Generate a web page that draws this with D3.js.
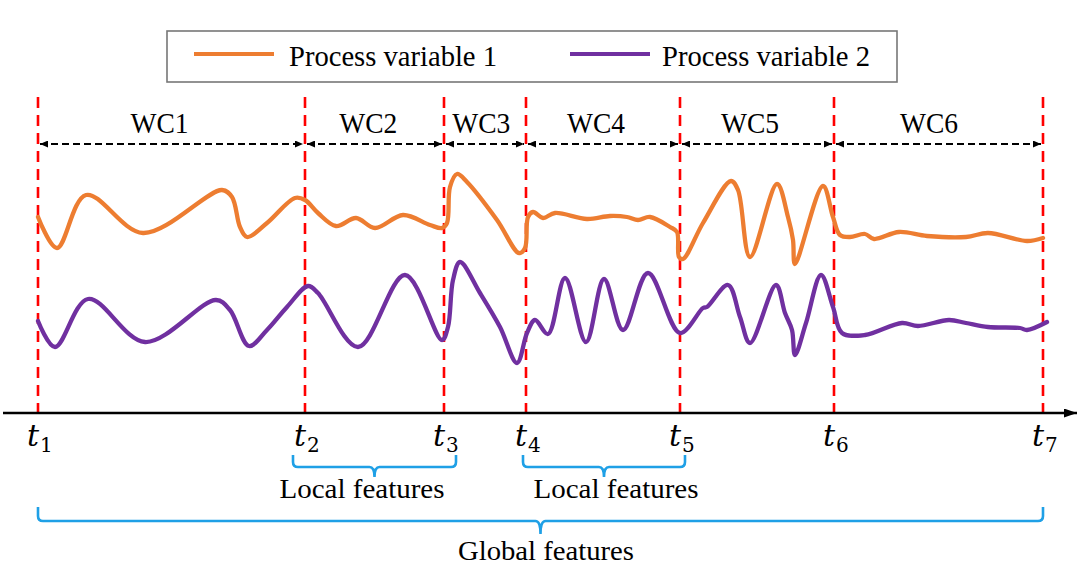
<!DOCTYPE html>
<html><head><meta charset="utf-8">
<script src="https://cdn.jsdelivr.net/npm/d3@7"></script>
<style>html,body{margin:0;padding:0;background:#fff;} svg{display:block;}</style>
</head><body>
<svg id="chart" width="1080" height="570"></svg>
<script>
// ---------------- data ----------------
const boundaryTimes = [0, 267, 406, 488, 642, 796, 1005];
const boundarySubs = ["1", "2", "3", "4", "5", "6", "7"];
const segmentLabels = ["WC1", "WC2", "WC3", "WC4", "WC5", "WC6"];
const seriesNames = ["Process variable 1", "Process variable 2"];
const pv1 = [[0,196],[19,165],[48,218],[105,180],[184,223],[194,216],[202,186],[209,176],[229,190],[257,215],[267,213],[280,200],[298,187],[318,195],[337,185],[365,198],[392,188],[404,185],[409,190],[412,226],[419,239],[429,231],[459,193],[481,160],[487,165],[490,196],[495,201],[505,195],[517,200],[549,194],[572,197],[589,196],[600,193],[612,196],[632,186],[639,181],[641,156],[645,154],[665,190],[693,232],[700,223],[712,156],[739,229],[750,196],[755,173],[757,149],[785,227],[795,196],[802,178],[812,176],[827,179],[836,174],[861,181],[889,177],[928,176],[950,180],[989,172],[1005,175]];
const pv2 = [[0,92],[17,66],[50,114],[107,71],[178,113],[192,103],[211,67],[229,83],[249,106],[270,127],[280,120],[320,66],[367,138],[404,73],[410,86],[415,133],[422,151],[442,120],[462,86],[479,50],[489,80],[497,93],[510,79],[527,135],[548,71],[566,134],[585,83],[610,140],[642,80],[665,105],[669,106],[690,128],[702,96],[712,70],[738,128],[747,100],[754,83],[757,58],[768,90],[783,138],[795,106],[804,80],[827,78],[864,90],[880,87],[911,93],[928,90],[950,86],[982,85],[989,83],[1009,91]];
const localSpans = [[1, 2], [3, 4]];      // boundary indices covered by "Local features"
const localLabel = "Local features";
const globalLabel = "Global features";

// ---------------- layout ----------------
const svg = d3.select("#chart");
const x = d3.scaleLinear().domain([0, 1005]).range([38, 1043]);
const y = d3.scaleLinear().domain([0, 300]).range([413, 113]);
const colors = ["#ED7D31", "#7030A0"];
const serif = "'Liberation Serif','Times New Roman',serif";
const blue = "#1FA0E6";

const defs = svg.append("defs");
function marker(id, w, h, orient) {
  defs.append("marker").attr("id", id).attr("viewBox", `0 0 ${w} ${h}`)
    .attr("refX", w).attr("refY", h / 2).attr("markerWidth", w).attr("markerHeight", h)
    .attr("markerUnits", "userSpaceOnUse").attr("orient", orient)
    .append("path").attr("d", `M0,0 L${w},${h/2} L0,${h} Z`).attr("fill", "#000");
}
marker("ah", 8, 7, "auto-start-reverse");
marker("axh", 13, 9, "auto");

// legend
svg.append("rect").attr("x", 167).attr("y", 31).attr("width", 730).attr("height", 51)
  .attr("fill", "#fff").attr("stroke", "#777").attr("stroke-width", 1.6);
const legX = [[194, 274, 289], [570, 650, 662]];
seriesNames.forEach((n, i) => {
  svg.append("line").attr("x1", legX[i][0]).attr("x2", legX[i][1]).attr("y1", 54).attr("y2", 54)
    .attr("stroke", colors[i]).attr("stroke-width", 4.2);
  svg.append("text").attr("x", legX[i][2]).attr("y", 66).attr("font-family", serif)
    .attr("font-size", 30).attr("textLength", 208).attr("lengthAdjust", "spacingAndGlyphs")
    .attr("fill", "#000").text(n);
});

// red dashed boundaries
svg.selectAll("line.bd").data(boundaryTimes).join("line").attr("class", "bd")
  .attr("x1", d => x(d)).attr("x2", d => x(d)).attr("y1", 97).attr("y2", 413)
  .attr("stroke", "#FF0000").attr("stroke-width", 2.6).attr("stroke-dasharray", "11,7");

// segment arrows + labels
segmentLabels.forEach((lab, i) => {
  const a = x(boundaryTimes[i]), b = x(boundaryTimes[i + 1]);
  svg.append("line").attr("x1", a + 2).attr("x2", b - 2).attr("y1", 144).attr("y2", 144)
    .attr("stroke", "#000").attr("stroke-width", 2.2).attr("stroke-dasharray", "7,4")
    .attr("marker-start", "url(#ah)").attr("marker-end", "url(#ah)");
  svg.append("text").attr("x", (a + b) / 2 - 0.045 * (b - a)).attr("y", 133)
    .attr("text-anchor", "middle").attr("font-family", serif).attr("font-size", 30)
    .attr("textLength", 58).attr("lengthAdjust", "spacingAndGlyphs").text(lab);
});

// curves
const line = d3.line().x(d => x(d[0])).y(d => y(d[1])).curve(d3.curveCatmullRom.alpha(0.5));
[pv1, pv2].forEach((s, i) => {
  svg.append("path").attr("d", line(s)).attr("fill", "none").attr("stroke", colors[i])
    .attr("stroke-width", 4.3).attr("stroke-linejoin", "round").attr("stroke-linecap", "round");
});

// time axis
svg.append("line").attr("x1", 3).attr("x2", 1077).attr("y1", y(0)).attr("y2", y(0))
  .attr("stroke", "#000").attr("stroke-width", 2.6).attr("marker-end", "url(#axh)");

// t labels
boundaryTimes.forEach((t, i) => {
  const tx = svg.append("text").attr("x", x(t) - 11).attr("y", 446).attr("fill", "#000");
  tx.append("tspan").attr("font-family", "'DejaVu Serif',serif").attr("font-style", "italic")
    .attr("font-size", 30).text("t");
  tx.append("tspan").attr("font-family", "'DejaVu Serif',serif").attr("font-size", 20)
    .attr("dy", 6).attr("dx", 1).text(boundarySubs[i]);
});

// braces
function brace(x1, x2, yTop, yH, yTip, r) {
  const xm = (x1 + x2) / 2;
  return `M${x1},${yTop} L${x1},${yH - r} Q${x1},${yH} ${x1 + r},${yH} L${xm - r},${yH} Q${xm},${yH} ${xm},${yTip}` +
    ` Q${xm},${yH} ${xm + r},${yH} L${x2 - r},${yH} Q${x2},${yH} ${x2},${yH - r} L${x2},${yTop}`;
}
const localPad = [[-12, 12], [-3, 5]];
const localText = [362, 616];
localSpans.forEach((sp, i) => {
  const a = x(boundaryTimes[sp[0]]) + localPad[i][0], b = x(boundaryTimes[sp[1]]) + localPad[i][1];
  svg.append("path").attr("d", brace(a, b, 455, 467, 477, 5)).attr("fill", "none")
    .attr("stroke", blue).attr("stroke-width", 2.6);
  svg.append("text").attr("x", localText[i]).attr("y", 498).attr("text-anchor", "middle")
    .attr("font-family", serif).attr("font-size", 27).attr("textLength", 165)
    .attr("lengthAdjust", "spacingAndGlyphs").text(localLabel);
});
svg.append("path").attr("d", brace(x(boundaryTimes[0]), x(boundaryTimes[6]), 507, 521, 534, 5))
  .attr("fill", "none").attr("stroke", blue).attr("stroke-width", 2.6);
svg.append("text").attr("x", 546).attr("y", 560).attr("text-anchor", "middle")
  .attr("font-family", serif).attr("font-size", 27).attr("textLength", 176)
  .attr("lengthAdjust", "spacingAndGlyphs").text(globalLabel);
</script>
</body></html>
